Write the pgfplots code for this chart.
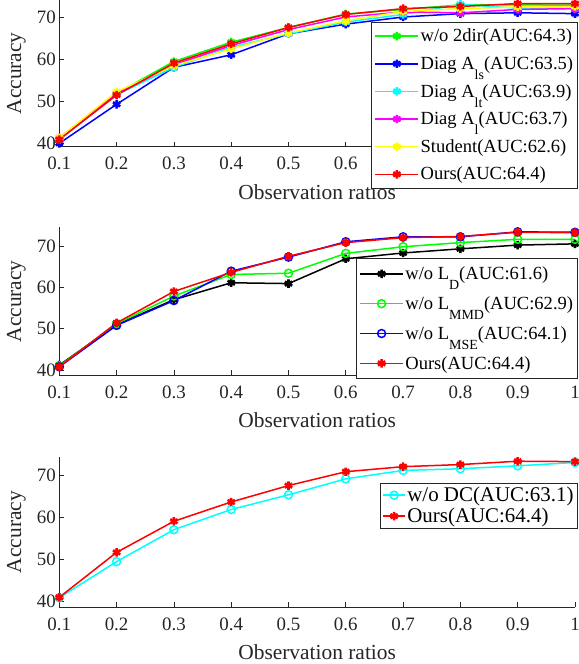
\documentclass[border=0pt]{standalone}
\usepackage{fontspec}
\setmainfont{Liberation Serif}
\usepackage{pgfplots}
\pgfplotsset{compat=1.18}
\definecolor{axgray}{rgb}{0.15,0.15,0.15}
\definecolor{mgreen}{rgb}{0,1,0}
\definecolor{mblue}{rgb}{0,0,1}
\definecolor{mcyan}{rgb}{0,1,1}
\definecolor{mmagenta}{rgb}{1,0,1}
\definecolor{myellow}{rgb}{1,1,0}
\definecolor{mred}{rgb}{1,0,0}
\newcommand\sub[1]{\raisebox{-0.55em}{\fontsize{14}{14}\selectfont #1}}
\def\leghalf{21.5bp}
\pgfplotsset{
  myax/.style={
    scale only axis, width=515.7bp,
    xmin=0.1, xmax=1,
    xtick={0.1,0.2,0.3,0.4,0.5,0.6,0.7,0.8,0.9,1},
    xticklabels={0.1,0.2,0.3,0.4,0.5,0.6,0.7,0.8,0.9,1},
    ytick={40,50,60,70},
    axis lines*=left, tick align=inside, major tick length=5bp,
    axis line style={draw=axgray, line width=0.6bp},
    every tick/.style={axgray, line width=0.6bp},
    tick label style={font=\fontsize{19}{19}\selectfont, text=axgray},
    xticklabel style={yshift=-7bp},
    /pgf/number format/assume math mode=true,
    label style={font=\fontsize{21.5}{21.5}\selectfont, text=axgray},
    xlabel={Observation ratios}, ylabel={Accuracy},
    xlabel style={at={(axis description cs:0.5,0)}, anchor=center, yshift=-45bp},
    ylabel style={at={(axis description cs:-0.0834,0.5)}, anchor=center},
    legend cell align=left,
    legend style={draw=axgray, line width=0.5bp, fill=white,
      font=\fontsize{18.6}{18.6}\selectfont, inner xsep=3bp, inner ysep=5bp,
      nodes={inner xsep=1.5bp},
      anchor=north east, row sep=9.3bp},
    every axis plot/.append style={line width=1.5bp},
  },
  myleg/.style={legend image code/.code={\draw[mark repeat=2, mark phase=2, line width=1.6bp] plot coordinates {(-\leghalf,0bp) (0bp,0bp) (\leghalf,0bp)};}},
  star/.style={mark=asterisk, mark size=4.2bp, mark options={solid, line width=2.6bp}, myleg},
  circ/.style={mark=o, mark size=4bp, mark options={solid, line width=1.5bp}, myleg},
}
\begin{document}
\begin{tikzpicture}
\useasboundingbox (0,0) rectangle (579bp,664bp);
% ---------------- top ----------------
\begin{axis}[myax, at={(59.3bp,517.3bp)}, anchor=south west, height=146.7bp,
  ymin=39.1, ymax=74.05,
  xticklabels={0.1,0.2,0.3,0.4,0.5,0.6,{},{},{},{}},
  legend style={at={(1.0055,0.852)}}]
\addplot[mgreen, star] coordinates {(0.1,41.0) (0.2,51.8) (0.3,59.4) (0.4,64.0) (0.5,67.5) (0.6,70.7) (0.7,71.8) (0.8,72.9) (0.9,72.9) (1,72.8)};
\addlegendentry{w/o 2dir(AUC:64.3)}
\addplot[mblue, star] coordinates {(0.1,39.9) (0.2,49.2) (0.3,58.0) (0.4,61.0) (0.5,66.0) (0.6,68.3) (0.7,70.0) (0.8,70.8) (0.9,71.0) (1,70.8)};
\addlegendentry{Diag A\sub{ls}(AUC:63.5)}
\addplot[mcyan, star] coordinates {(0.1,40.8) (0.2,51.5) (0.3,58.0) (0.4,62.8) (0.5,66.0) (0.6,68.8) (0.7,70.6) (0.8,73.0) (0.9,72.1) (1,72.0)};
\addlegendentry{Diag A\sub{lt}(AUC:63.9)}
\addplot[mmagenta, star] coordinates {(0.1,41.2) (0.2,51.7) (0.3,58.6) (0.4,63.2) (0.5,67.0) (0.6,70.0) (0.7,71.2) (0.8,71.0) (0.9,71.8) (1,72.0)};
\addlegendentry{Diag A\sub{l}(AUC:63.7)}
\addplot[myellow, star] coordinates {(0.1,41.2) (0.2,52.2) (0.3,58.4) (0.4,62.4) (0.5,66.2) (0.6,69.1) (0.7,71.3) (0.8,72.0) (0.9,72.4) (1,72.5)};
\addlegendentry{Student(AUC:62.6)}
\addplot[mred, star] coordinates {(0.1,40.8) (0.2,51.4) (0.3,59.0) (0.4,63.6) (0.5,67.5) (0.6,70.6) (0.7,72.0) (0.8,72.5) (0.9,73.2) (1,73.2)};
\addlegendentry{Ours(AUC:64.4)}
\end{axis}
% ---------------- middle ----------------
\begin{axis}[myax, at={(59.3bp,288.5bp)}, anchor=south west, height=148.2bp,
  ymin=38.7, ymax=74.5,
  legend style={at={(1.0055,0.79)}, row sep=11.5bp, inner ysep=6bp}]
\addplot[black, star] coordinates {(0.1,41.2) (0.2,51.0) (0.3,57.0) (0.4,61.1) (0.5,60.9) (0.6,66.9) (0.7,68.3) (0.8,69.3) (0.9,70.2) (1,70.5)};
\addlegendentry{w/o L\sub{D}(AUC:61.6)}
\addplot[mgreen, circ] coordinates {(0.1,41.0) (0.2,51.2) (0.3,57.9) (0.4,63.1) (0.5,63.4) (0.6,68.2) (0.7,69.8) (0.8,70.8) (0.9,71.6) (1,71.6)};
\addlegendentry{w/o L\sub{MMD}(AUC:62.9)}
\addplot[mblue, circ] coordinates {(0.1,40.8) (0.2,50.8) (0.3,56.8) (0.4,63.9) (0.5,67.3) (0.6,71.0) (0.7,72.2) (0.8,72.2) (0.9,73.4) (1,73.3)};
\addlegendentry{w/o L\sub{MSE}(AUC:64.1)}
\addplot[mred, star] coordinates {(0.1,40.8) (0.2,51.4) (0.3,59.0) (0.4,63.6) (0.5,67.5) (0.6,70.8) (0.7,72.0) (0.8,72.3) (0.9,73.3) (1,73.2)};
\addlegendentry{Ours(AUC:64.4)}
\end{axis}
% ---------------- bottom ----------------
\def\leghalf{11bp}
\begin{axis}[myax, at={(59.3bp,57bp)}, anchor=south west, height=150bp,
  ymin=38.6, ymax=74.3,
  legend style={at={(1.0055,0.827)}, font=\fontsize{21}{21}\selectfont, row sep=1bp, inner ysep=2bp, inner xsep=2.5bp}]
\addplot[mcyan, circ] coordinates {(0.1,40.8) (0.2,49.4) (0.3,57.0) (0.4,61.8) (0.5,65.3) (0.6,69.1) (0.7,71.1) (0.8,71.5) (0.9,72.2) (1,73.0)};
\addlegendentry{w/o DC(AUC:63.1)}
\addplot[mred, star] coordinates {(0.1,40.9) (0.2,51.6) (0.3,59.0) (0.4,63.6) (0.5,67.5) (0.6,70.8) (0.7,72.0) (0.8,72.5) (0.9,73.3) (1,73.2)};
\addlegendentry{Ours(AUC:64.4)}
\end{axis}
\end{tikzpicture}
\end{document}
